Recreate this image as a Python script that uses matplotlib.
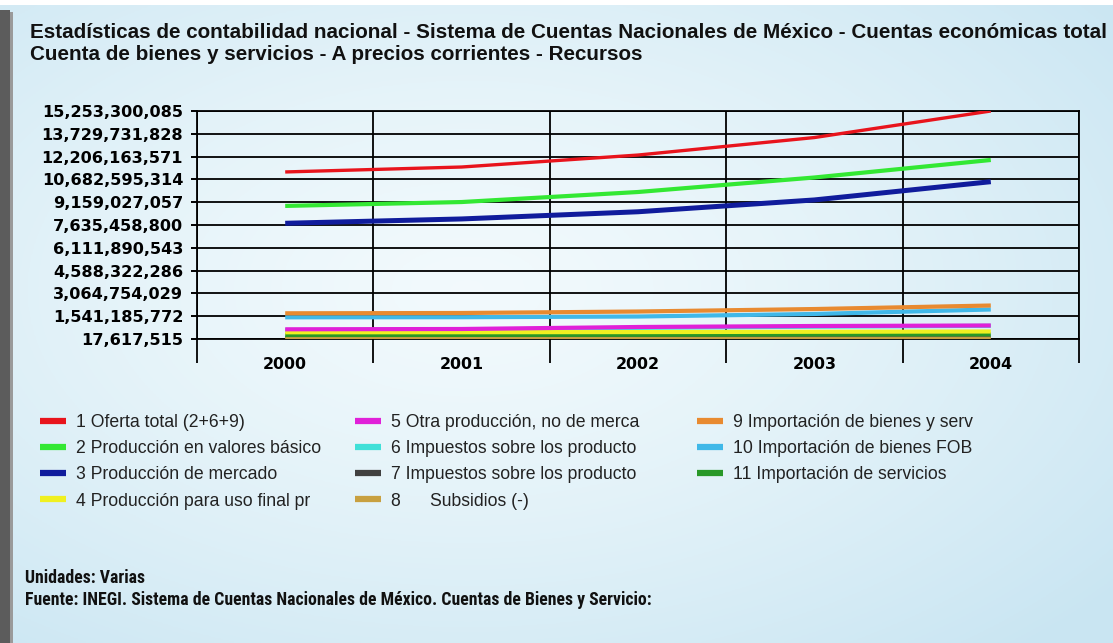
import numpy as np
import matplotlib
matplotlib.use("Agg")
import matplotlib.pyplot as plt
from matplotlib import font_manager as fm
from matplotlib.lines import Line2D
from matplotlib.patches import Rectangle
from matplotlib.ticker import FuncFormatter

# Data (units: varias)
years = ["2000", "2001", "2002", "2003", "2004"]

oferta_total = [11.18e9, 11.51e9, 12.31e9, 13.48e9, 15_253_300_085]
prod_valores_basicos = [8.91e9, 9.17e9, 9.84e9, 10.81e9, 11.98e9]
prod_mercado = [7.75e9, 8.04e9, 8.52e9, 9.31e9, 10.53e9]
prod_uso_final = [0.465e9, 0.47e9, 0.48e9, 0.50e9, 0.52e9]
otra_produccion = [0.666e9, 0.686e9, 0.82e9, 0.886e9, 0.92e9]
impuestos_productos = [0.60e9, 0.64e9, 0.76e9, 0.84e9, 0.90e9]
impuestos_productos_netos = [0.10e9, 0.10e9, 0.11e9, 0.12e9, 0.13e9]
subsidios = [17_617_515, 0.025e9, 0.03e9, 0.035e9, 0.04e9]
import_bienes_serv = [1.735e9, 1.755e9, 1.855e9, 2.02e9, 2.256e9]
import_bienes_fob = [1.467e9, 1.474e9, 1.52e9, 1.69e9, 1.99e9]
import_servicios = [0.285e9, 0.29e9, 0.30e9, 0.32e9, 0.33e9]

labels = [
    "1 Oferta total (2+6+9)",
    "2 Producción en valores básico",
    "3 Producción de mercado",
    "4 Producción para uso final pr",
    "5 Otra producción, no de merca",
    "6 Impuestos sobre los producto",
    "7 Impuestos sobre los producto",
    "8      Subsidios (-)",
    "9 Importación de bienes y serv",
    "10 Importación de bienes FOB",
    "11 Importación de servicios",
]
series = [oferta_total, prod_valores_basicos, prod_mercado, prod_uso_final,
          otra_produccion, impuestos_productos, impuestos_productos_netos,
          subsidios, import_bienes_serv, import_bienes_fob, import_servicios]
colors = ["#e8141c", "#33e833", "#101c9c", "#f0f020", "#e020d8", "#40e0d8",
          "#404040", "#c8a040", "#e88a30", "#40b8e8", "#289828"]
widths = [2.4, 3.0, 3.6, 3.0, 3.0, 3.0, 2.4, 3.0, 3.0, 3.0, 3.0]
# draw order (first = bottom)
order = [5, 6, 7, 10, 3, 4, 9, 8, 2, 1, 0]

y_min = 17_617_515
y_max = 15_253_300_085

W, H = 1113, 643
fig = plt.figure(figsize=(W / 100, H / 100), dpi=100)

# background gradient
bg = fig.add_axes([0, 0, 1, 1], zorder=-10)
gx, gy = np.meshgrid(np.linspace(0, 1, 400), np.linspace(0, 1, 240))
d = np.sqrt(((gx - 0.42) / 0.75) ** 2 + ((gy - 0.45) / 0.75) ** 2)
t = np.clip(d, 0, 1) ** 1.3
light = np.array([0.95, 0.98, 0.99])
dark = np.array([0.79, 0.90, 0.95])
img = light[None, None, :] * (1 - t[..., None]) + dark[None, None, :] * t[..., None]
bg.imshow(img, extent=[0, 1, 0, 1], origin="upper", aspect="auto")
bg.add_patch(Rectangle((0, 1 - 5 / H), 1, 5 / H, color="white", lw=0))
bg.add_patch(Rectangle((0, 0), 10 / W, 1 - 10 / H, color="#5c5c5c", lw=0))
bg.add_patch(Rectangle((10 / W, 0), 3 / W, 1 - 12 / H, color="#9a9a9a", lw=0))
bg.set_xlim(0, 1)
bg.set_ylim(0, 1)
bg.axis("off")

ax = fig.add_axes([197 / W, 1 - 339 / H, (1079 - 197) / W, (339 - 111) / H])
ax.patch.set_alpha(0)

x = np.arange(len(years))
for i in order:
    ax.plot(x, series[i], color=colors[i], lw=widths[i], solid_capstyle="butt",
            zorder=3)

ax.set_xlim(-0.5, len(years) - 0.5)
ax.set_ylim(y_min, y_max)
ax.set_yticks(np.linspace(y_min, y_max, 11))
ax.yaxis.set_major_formatter(FuncFormatter(lambda v, p: f"{int(round(v)):,}"))
ax.set_xticks(x)
ax.set_xticklabels(years)
ax.set_xticks(np.arange(-0.5, len(years)), minor=True)

ax.tick_params(axis="y", length=4, width=1.4, color="black", pad=6,
               labelsize=11.6)
ax.tick_params(axis="x", which="major", length=0, pad=13, labelsize=11.4)
ax.tick_params(axis="x", which="minor", length=17, width=1.3, color="black")
for lab in ax.get_yticklabels() + ax.get_xticklabels():
    lab.set_fontweight("bold")
    lab.set_family("DejaVu Sans")

ax.grid(axis="y", which="major", color="black", lw=1.3, zorder=1)
ax.grid(axis="x", which="minor", color="black", lw=1.3, zorder=1)
for s in ax.spines.values():
    s.set_color("black")
    s.set_linewidth(1.3)

# titles
title_font = dict(family=["Liberation Sans", "DejaVu Sans"], weight="bold",
                  size=14.9, color="#111111", va="center", ha="left")
fig.text(30 / W, 1 - 33 / H,
         "Estadísticas de contabilidad nacional - Sistema de Cuentas Nacionales "
         "de México - Cuentas económicas total", **title_font)
fig.text(30 / W, 1 - 54 / H,
         "Cuenta de bienes y servicios - A precios corrientes - Recursos",
         **title_font)

# legend, three columns
col_x = [40, 355, 697]
groups = [[0, 1, 2, 3], [4, 5, 6, 7], [8, 9, 10]]
for cx, grp in zip(col_x, groups):
    handles = [Line2D([], [], color=colors[i], lw=4.5, solid_capstyle="butt")
               for i in grp]
    fig.legend(handles, [labels[i] for i in grp], loc="upper left",
               bbox_to_anchor=(cx / W, 1 - 414 / H), frameon=False,
               borderpad=0, borderaxespad=0, handlelength=1.5,
               handletextpad=0.55, labelspacing=0.52,
               prop=dict(family=["Liberation Sans", "DejaVu Sans"], size=12.7),
               labelcolor="#222222")

# footer: condensed bold if one is installed
names = {f.name for f in fm.fontManager.ttflist}
narrow = next((n for n in ["Liberation Sans Narrow", "Arial Narrow",
                           "DejaVu Sans Condensed", "Roboto Condensed"]
               if n in names), None)
condensed_dejavu = any(f.name == "DejaVu Sans" and f.stretch == "condensed"
                       and f.weight in ("bold", 700) for f in fm.fontManager.ttflist)
if narrow:
    foot_font = dict(family=[narrow, "DejaVu Sans"], size=12.8)
elif condensed_dejavu:
    foot_font = dict(family="DejaVu Sans", stretch="condensed", size=11.0)
else:
    foot_font = dict(family=["Liberation Sans", "DejaVu Sans"], size=10.6)
foot_font.update(weight="bold", color="#111111", va="center", ha="left")
fig.text(25 / W, 1 - 578 / H, "Unidades: Varias", **foot_font)
fig.text(25 / W, 1 - 600 / H,
         "Fuente: INEGI. Sistema de Cuentas Nacionales de México. Cuentas de "
         "Bienes y Servicio:", **foot_font)

fig.savefig("out.png", dpi=100)
